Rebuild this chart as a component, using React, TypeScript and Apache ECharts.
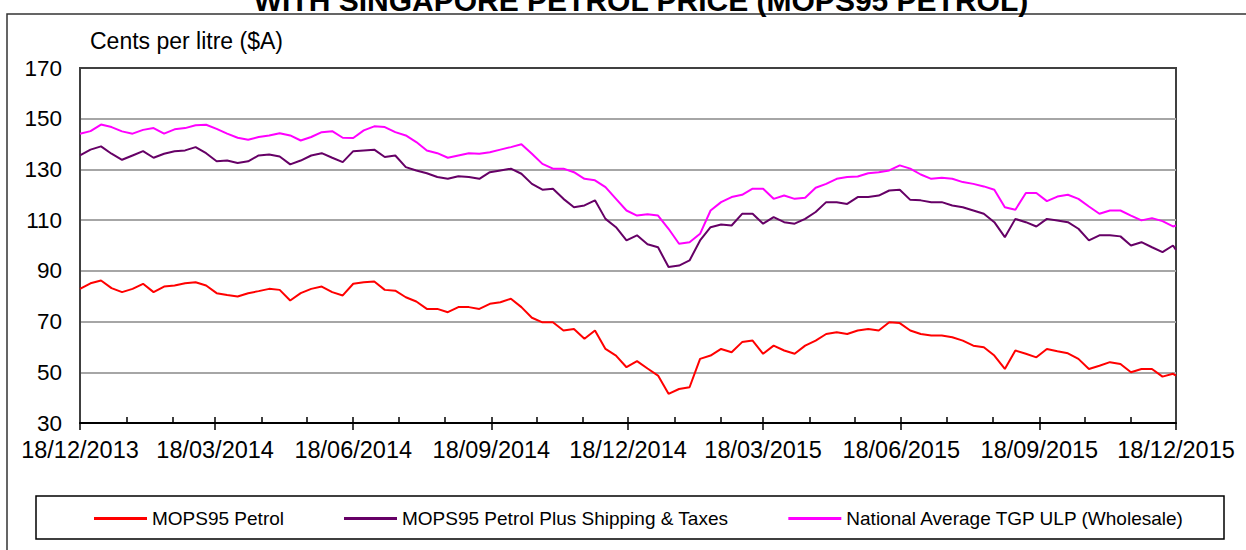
import React, { useEffect, useRef } from "react";
import * as echarts from "echarts";

const TITLE = "WITH SINGAPORE PETROL PRICE (MOPS95 PETROL)";
const Y_TITLE = "Cents per litre ($A)";

const dates = [
  "2013-12-18", "2013-12-25", "2014-01-01", "2014-01-08", "2014-01-15", "2014-01-22", "2014-01-29",
  "2014-02-05", "2014-02-12", "2014-02-19", "2014-02-26", "2014-03-05", "2014-03-12", "2014-03-19",
  "2014-03-26", "2014-04-02", "2014-04-09", "2014-04-16", "2014-04-23", "2014-04-30", "2014-05-07",
  "2014-05-14", "2014-05-21", "2014-05-28", "2014-06-04", "2014-06-11", "2014-06-18", "2014-06-25",
  "2014-07-02", "2014-07-09", "2014-07-16", "2014-07-23", "2014-07-30", "2014-08-06", "2014-08-13",
  "2014-08-20", "2014-08-27", "2014-09-03", "2014-09-10", "2014-09-17", "2014-09-24", "2014-10-01",
  "2014-10-08", "2014-10-15", "2014-10-22", "2014-10-29", "2014-11-05", "2014-11-12", "2014-11-19",
  "2014-11-26", "2014-12-03", "2014-12-10", "2014-12-17", "2014-12-24", "2014-12-31", "2015-01-07",
  "2015-01-14", "2015-01-21", "2015-01-28", "2015-02-04", "2015-02-11", "2015-02-18", "2015-02-25",
  "2015-03-04", "2015-03-11", "2015-03-18", "2015-03-25", "2015-04-01", "2015-04-08", "2015-04-15",
  "2015-04-22", "2015-04-29", "2015-05-06", "2015-05-13", "2015-05-20", "2015-05-27", "2015-06-03",
  "2015-06-10", "2015-06-17", "2015-06-24", "2015-07-01", "2015-07-08", "2015-07-15", "2015-07-22",
  "2015-07-29", "2015-08-05", "2015-08-12", "2015-08-19", "2015-08-26", "2015-09-02", "2015-09-09",
  "2015-09-16", "2015-09-23", "2015-09-30", "2015-10-07", "2015-10-14", "2015-10-21", "2015-10-28",
  "2015-11-04", "2015-11-11", "2015-11-18", "2015-11-25", "2015-12-02", "2015-12-09", "2015-12-16",
  "2015-12-18",
];

const mops95 = [
  82.9, 85.1, 86.2, 83.2, 81.6, 82.9, 84.9, 81.6, 83.8, 84.2, 85.1, 85.5, 84.2, 81.2, 80.5, 79.9, 81.2, 82.0, 82.9,
  82.5, 78.3, 81.2, 82.9, 83.8, 81.6, 80.3, 84.9, 85.5, 85.8, 82.5, 82.2, 79.6, 77.9, 75.0, 75.0, 73.7, 75.7,
  75.7, 75.0, 77.0, 77.6, 79.0, 75.7, 71.5, 69.7, 69.7, 66.5, 67.1, 63.2, 66.5, 59.2, 56.6, 52.0, 54.4, 51.5,
  48.7, 41.5, 43.4, 44.1, 55.3, 56.6, 59.2, 57.9, 61.9, 62.5, 57.3, 60.5, 58.6, 57.3, 60.5, 62.5, 65.1, 65.8,
  65.1, 66.5, 67.1, 66.5, 69.7, 69.4, 66.5, 65.1, 64.5, 64.5, 63.8, 62.5, 60.5, 59.9, 56.6, 51.3, 58.6, 57.3,
  55.9, 59.2, 58.3, 57.5, 55.3, 51.3, 52.6, 54.0, 53.3, 50.0, 51.3, 51.3, 48.3, 49.4, 48.7,
];

const mops95Plus = [
  135.5, 137.8, 139.1, 136.2, 133.8, 135.5, 137.2, 134.6, 136.2, 137.2, 137.5, 138.8, 136.4, 133.2, 133.5, 132.5, 133.2, 135.5, 135.9,
  135.1, 132.0, 133.5, 135.5, 136.4, 134.6, 132.9, 137.2, 137.5, 137.8, 134.9, 135.5, 130.9, 129.6, 128.5, 127.0, 126.3, 127.3,
  127.0, 126.3, 128.9, 129.6, 130.3, 128.3, 124.3, 122.0, 122.4, 118.4, 115.1, 115.8, 117.8, 110.5, 107.2, 102.0, 104.0, 100.5,
  99.3, 91.5, 92.1, 94.1, 102.0, 107.2, 108.3, 107.9, 112.5, 112.5, 108.6, 111.2, 109.2, 108.6, 110.5, 113.2, 117.1, 117.1,
  116.4, 119.1, 119.1, 119.7, 121.7, 122.0, 118.0, 117.8, 117.1, 117.1, 115.8, 115.1, 113.8, 112.5, 109.2, 103.3, 110.5, 109.2,
  107.5, 110.5, 109.9, 109.2, 106.6, 102.0, 104.0, 104.0, 103.6, 100.0, 101.3, 99.3, 97.4, 100.0, 98.3,
];

const tgpUlp = [
  144.1, 145.1, 147.7, 146.7, 145.0, 144.1, 145.6, 146.3, 144.1, 145.8, 146.3, 147.4, 147.6, 146.0, 144.1, 142.5, 141.7, 142.8, 143.4,
  144.3, 143.4, 141.4, 142.8, 144.7, 145.1, 142.5, 142.4, 145.4, 147.0, 146.7, 144.7, 143.4, 140.8, 137.5, 136.4, 134.6, 135.5,
  136.4, 136.2, 136.8, 137.8, 138.8, 139.9, 136.2, 132.2, 130.3, 130.3, 128.9, 126.3, 125.7, 123.0, 118.4, 113.8, 111.8, 112.3,
  111.8, 106.6, 100.7, 101.3, 104.6, 113.8, 117.1, 119.1, 120.0, 122.4, 122.4, 118.4, 119.7, 118.4, 118.8, 122.8, 124.3, 126.3,
  127.0, 127.2, 128.5, 128.9, 129.6, 131.6, 130.3, 128.0, 126.3, 126.7, 126.3, 125.0, 124.3, 123.3, 122.0, 115.1, 114.1, 120.7,
  120.7, 117.5, 119.3, 120.0, 118.4, 115.4, 112.5, 113.8, 113.8, 111.8, 109.9, 110.8, 109.6, 107.5, 107.9,
];

const seriesNames = [
  "MOPS95 Petrol",
  "MOPS95 Petrol Plus Shipping & Taxes",
  "National Average TGP ULP (Wholesale)",
];
const seriesColors = ["#ff0000", "#660066", "#ff00ff"];

const labelDates = [
  "2013-12-18", "2014-03-18", "2014-06-18", "2014-09-18", "2014-12-18",
  "2015-03-18", "2015-06-18", "2015-09-18", "2015-12-18",
];
const monthTickDates = [
  "2014-01-18", "2014-02-18", "2014-03-18", "2014-04-18", "2014-05-18", "2014-06-18",
  "2014-07-18", "2014-08-18", "2014-09-18", "2014-10-18", "2014-11-18", "2014-12-18",
  "2015-01-18", "2015-02-18", "2015-03-18", "2015-04-18", "2015-05-18", "2015-06-18",
  "2015-07-18", "2015-08-18", "2015-09-18", "2015-10-18", "2015-11-18",
];

const FONT = "'Liberation Sans', Arial, sans-serif";

function ts(s: string) {
  const [y, m, d] = s.split("-").map(Number);
  return new Date(y, m - 1, d).getTime();
}

function fmtDate(v: number) {
  const d = new Date(v + 12 * 3600 * 1000);
  const dd = String(d.getDate()).padStart(2, "0");
  const mm = String(d.getMonth() + 1).padStart(2, "0");
  return `${dd}/${mm}/${d.getFullYear()}`;
}

export default function App() {
  const ref = useRef<HTMLDivElement>(null);
  useEffect(() => {
    document.body.style.margin = "0";
    const chart = echarts.init(ref.current!, null, { renderer: "svg" });
    const values = [mops95, mops95Plus, tgpUlp];
    const xMin = ts(labelDates[0]);
    const xMax = ts(labelDates[labelDates.length - 1]);
    const labelTs = labelDates.map(ts);
    const monthTs = monthTickDates.map(ts);
    const option: any = {
      animation: false,
      backgroundColor: "#ffffff",
      textStyle: { fontFamily: FONT },
      grid: {
        left: 80,
        right: 70,
        top: 68,
        bottom: 127,
        show: true,
        borderColor: "#404040",
        borderWidth: 2,
        containLabel: false,
      },
      legend: {
        data: seriesNames.map((n) => ({ name: n, icon: "rect" })),
        left: 94,
        top: 509,
        padding: 0,
        itemWidth: 53,
        itemHeight: 3,
        itemGap: 60,
        textStyle: { fontSize: 19, color: "#000", fontFamily: FONT },
      },
      xAxis: [
        {
          type: "value",
          min: xMin,
          max: xMax,
          axisLine: { show: true, onZero: false, lineStyle: { color: "#000", width: 2 } },
          axisTick: {
            show: true,
            customValues: labelTs,
            length: 7,
            lineStyle: { color: "#000", width: 1.5 },
          },
          axisLabel: {
            customValues: labelTs,
            formatter: (v: number) => fmtDate(v),
            fontSize: 23.5,
            color: "#000",
            margin: 15,
            fontFamily: FONT,
          },
          splitLine: { show: false },
        },
        {
          type: "value",
          min: xMin,
          max: xMax,
          position: "bottom",
          axisLine: { show: false, onZero: false },
          axisTick: {
            show: true,
            inside: true,
            customValues: monthTs,
            length: 6,
            lineStyle: { color: "#000", width: 1.5 },
          },
          axisLabel: { show: false },
          splitLine: { show: false },
        },
      ],
      yAxis: {
        type: "value",
        min: 30,
        max: 170,
        interval: 20,
        axisLine: { show: true, lineStyle: { color: "#404040", width: 2 } },
        axisTick: { show: false },
        axisLabel: { fontSize: 22.5, color: "#000", margin: 18, fontFamily: FONT },
        splitLine: {
          show: true,
          lineStyle: {
            color: ["#000", "#a6a6a6", "#a6a6a6", "#a6a6a6", "#a6a6a6", "#a6a6a6", "#a6a6a6", "#404040"],
            width: 2,
          },
        },
      },
      series: seriesNames.map((name, i) => ({
        name,
        type: "line",
        xAxisIndex: 0,
        showSymbol: false,
        symbol: "none",
        color: seriesColors[i],
        lineStyle: { color: seriesColors[i], width: 2 },
        data: dates.map((d, j) => [ts(d), values[i][j]]),
      })),
      graphic: [
        {
          type: "polyline",
          shape: { points: [[7, 600], [7, 14], [1260, 14]] },
          style: { stroke: "#333", lineWidth: 1.5, fill: null },
          silent: true,
        },
        {
          type: "text",
          x: 641,
          y: 0,
          style: {
            text: TITLE,
            font: `bold 30px ${FONT}`,
            fill: "#000",
            align: "center",
            verticalAlign: "middle",
          },
        },
        {
          type: "text",
          x: 90,
          y: 41,
          style: {
            text: Y_TITLE,
            font: `23px ${FONT}`,
            fill: "#000",
            align: "left",
            verticalAlign: "middle",
          },
        },
        {
          type: "rect",
          shape: { x: 36, y: 496, width: 1188, height: 43 },
          style: { stroke: "#000", lineWidth: 1.5, fill: null },
          silent: true,
          z: -1,
        },
      ],
    };
    chart.setOption(option);
    return () => chart.dispose();
  }, []);
  return <div ref={ref} style={{ width: 1246, height: 550 }} />;
}
